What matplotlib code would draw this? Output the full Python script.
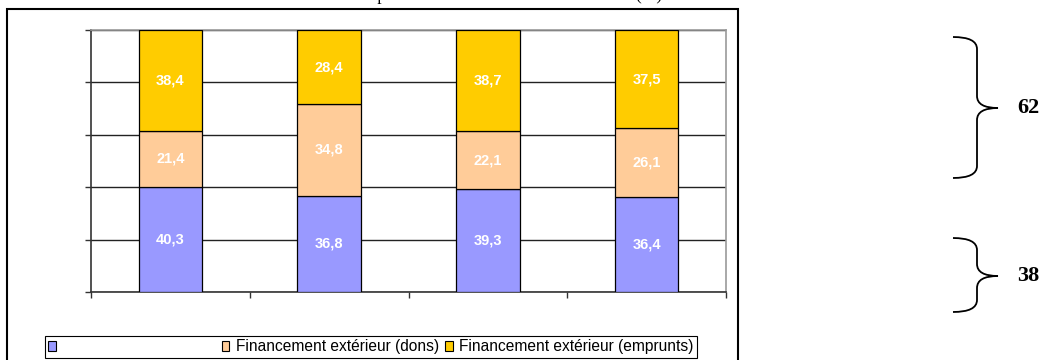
import matplotlib
matplotlib.use("Agg")
import numpy as np
import matplotlib.pyplot as plt
from matplotlib.path import Path
from matplotlib.patches import PathPatch, Rectangle

# data (percent)
interieur = [40.3, 36.8, 39.3, 36.4]
dons = [21.4, 34.8, 22.1, 26.1]
emprunts = [38.4, 28.4, 38.7, 37.5]
labels = ["Financement intérieur", "Financement extérieur (dons)", "Financement extérieur (emprunts)"]
colors = ["#9999FF", "#FFCC99", "#FFCC00"]
total_ext = 62
total_int = 38
title = "Répartition des sources de financement (%)"

W, H = 1045, 360
fig = plt.figure(figsize=(W/100, H/100), dpi=100)

def fx(px):
    return px/W
def fy(py):
    return 1 - py/H

ax = fig.add_axes([fx(91), fy(292), fx(726)-fx(91), fy(30)-fy(292)])

series = np.array([interieur, dons, emprunts])
series = series/series.sum(axis=0)*100  # 100% stacked like the original
x = np.arange(1, len(interieur)+1)
bottom = np.zeros(len(x))
raw = [interieur, dons, emprunts]
for i in range(3):
    bars = ax.bar(x, series[i], 0.4, bottom=bottom, color=colors[i],
                  edgecolor="black", linewidth=0.9, zorder=3)
    for b, v, y0 in zip(bars, raw[i], bottom):
        ax.text(b.get_x()+b.get_width()/2, y0+b.get_height()/2,
                ("%.1f" % v).replace(".", ","), color="white", fontweight="bold",
                fontsize=10.5, ha="center", va="center", family="Liberation Sans", zorder=4)
    bottom = bottom + series[i]

ax.set_xlim(0.5, 4.5)
ax.set_ylim(0, 100)
ax.set_yticks(np.arange(0, 101, 20))
ax.set_xticks(np.arange(0.5, 4.6, 1))
ax.set_yticklabels([])
ax.set_xticklabels([])
ax.tick_params(direction="out", length=4, width=1, color="#333333")
ax.yaxis.grid(True, color="#222222", linewidth=1, zorder=0)
ax.spines["left"].set_color("#333333")
ax.spines["bottom"].set_color("#333333")
ax.spines["top"].set_color("#999999")
ax.spines["right"].set_color("#999999")
for s in ax.spines.values():
    s.set_linewidth(1.2)

# outer chart border
fig.patches.append(Rectangle((fx(7), fy(400)), fx(738)-fx(7), fy(9)-fy(400),
                             transform=fig.transFigure, fill=False,
                             edgecolor="black", linewidth=1.5))

# title, cut off at the top as in the original (only descenders show)
fig.text(fx(662), fy(0.5), title, ha="right", va="baseline", fontsize=12.5,
         family="Liberation Serif")

handles = [Rectangle((0, 0), 1, 1, facecolor=c, edgecolor="black", linewidth=0.8) for c in colors]
leg_labels = [" " * 36, labels[1], labels[2]]
leg = fig.legend(handles, leg_labels, ncol=3, loc="upper left",
                 bbox_to_anchor=(fx(45), fy(336)), bbox_transform=fig.transFigure,
                 prop={"family": "Liberation Sans", "size": 11.2},
                 frameon=True, fancybox=False, edgecolor="black", framealpha=1,
                 handlelength=0.5, handleheight=0.6, handletextpad=0.4,
                 columnspacing=0.4, borderpad=0.22, borderaxespad=0)
leg.get_frame().set_linewidth(0.8)

# braces on the right
def brace(top, bot, tip, xl=953, xm=977, xt=998, h=12):
    verts = [(xl, top), (xm, top), (xm, top+h),
             (xm, tip-h),
             (xm, tip), (xt, tip),
             (xm, tip), (xm, tip+h),
             (xm, bot-h),
             (xm, bot), (xl, bot)]
    codes = [Path.MOVETO, Path.CURVE3, Path.CURVE3,
             Path.LINETO,
             Path.CURVE3, Path.CURVE3,
             Path.CURVE3, Path.CURVE3,
             Path.LINETO,
             Path.CURVE3, Path.CURVE3]
    verts = [(fx(a), fy(b)) for a, b in verts]
    fig.patches.append(PathPatch(Path(verts, codes), transform=fig.transFigure,
                                 fill=False, edgecolor="black", linewidth=1.3))

brace(37, 178, 108)
brace(238, 312, 276)
fig.text(fx(1017), fy(108), str(total_ext), fontsize=16, fontweight="bold",
         family="Liberation Serif", va="center", ha="left")
fig.text(fx(1017), fy(276), str(total_int), fontsize=16, fontweight="bold",
         family="Liberation Serif", va="center", ha="left")

fig.savefig("out.png", dpi=100)
